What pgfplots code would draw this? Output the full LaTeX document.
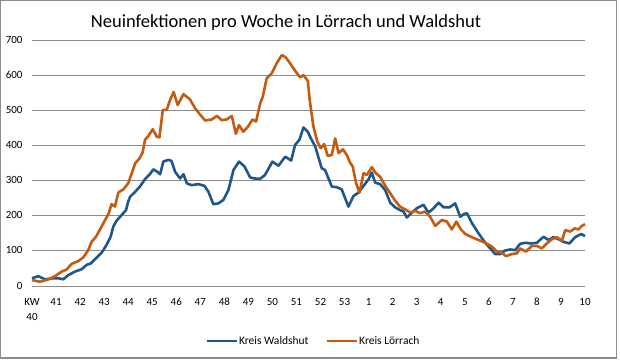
\documentclass[border=0pt]{standalone}
\usepackage{fontspec}
\setmainfont{Carlito}
\usepackage{pgfplots}
\pgfplotsset{compat=1.18}
\definecolor{wblue}{HTML}{1F5788}
\definecolor{lorange}{HTML}{C55A11}
\definecolor{gridgray}{HTML}{8C8C8C}
\begin{document}
\begin{tikzpicture}
\path[use as bounding box] (0,0) rectangle (620bp,-361bp);
\draw[gridgray, line width=1.2bp] (0.6bp,-0.6bp) rectangle (616.5bp,-358bp);
\node[font=\fontsize{18.5bp}{21bp}\selectfont] at (286bp,-23bp) {Neuinfektionen pro Woche in Lörrach und Waldshut};
\begin{axis}[
  at={(32bp,-286bp)}, anchor=south west,
  scale only axis, width=553bp, height=246bp,
  xmin=0, xmax=23, ymin=0, ymax=700,
  axis line style={draw=none},
  ytick={0,100,...,700},
  xtick={0,...,23},
  xticklabels={{KW\\40},41,42,43,44,45,46,47,48,49,50,51,52,53,1,2,3,4,5,6,7,8,9,10},
  ymajorgrids, grid style={gridgray, line width=0.8bp},
  major tick length=0pt,
  typeset ticklabels with strut,
  tick label style={font=\fontsize{11bp}{15bp}\selectfont},
  xticklabel style={align=center, anchor=north, yshift=-5bp},
  yticklabel style={anchor=east, xshift=-6bp},
  /pgf/number format/assume math mode=true,
  clip=false,
  legend columns=2,
  legend style={at={(0.508,-0.2236)}, anchor=center, draw=none, fill=none,
    font=\fontsize{11.5bp}{13bp}\selectfont,
    nodes={inner xsep=1bp},
    /tikz/every even column/.append style={column sep=16bp}},
  legend image code/.code={\draw[#1] (0bp,0bp) -- (30bp,0bp);},
]
\addplot[wblue, line width=2.6bp, line join=round] coordinates {
(0,22) (0.26,28) (0.54,19) (0.89,22) (1.1,22) (1.3,19) (1.51,31) (1.79,41)
(2.07,48) (2.27,60) (2.44,64) (2.62,76) (2.9,95) (3.1,117) (3.27,140) (3.38,169)
(3.52,186) (3.73,202) (3.91,216) (4.0,240) (4.08,254) (4.29,268) (4.49,283) (4.7,304)
(4.91,319) (5.05,332) (5.21,325) (5.33,318) (5.46,354) (5.67,359) (5.8,356) (5.95,325)
(6.16,306) (6.3,318) (6.44,292) (6.64,287) (6.92,290) (7.17,285) (7.34,268) (7.54,233)
(7.75,235) (7.96,245) (8.17,273) (8.38,330) (8.61,354) (8.84,340) (9.07,309) (9.25,306)
(9.49,305) (9.69,316) (10.0,354) (10.25,342) (10.53,368) (10.78,357) (10.94,401) (11.12,416)
(11.29,451) (11.47,439) (11.6,420) (11.78,397) (12.05,335) (12.19,330) (12.47,283) (12.68,281)
(12.88,275) (13.16,226) (13.37,256) (13.58,266) (13.79,285) (14.0,304) (14.13,323) (14.27,294)
(14.48,290) (14.69,273) (14.9,237) (15.1,224) (15.31,216) (15.45,212) (15.59,195) (15.8,209)
(16.0,221) (16.28,231) (16.49,209) (16.7,221) (16.91,237) (17.12,224) (17.37,224) (17.6,235)
(17.81,197) (17.97,205) (18.09,207) (18.29,180) (18.57,150) (18.85,123) (19.06,107) (19.26,91)
(19.47,91) (19.68,101) (19.89,104) (20.1,102) (20.3,120) (20.51,123) (20.76,121) (21.0,123)
(21.27,140) (21.48,131) (21.69,139) (21.9,133) (22.1,126) (22.35,121) (22.59,139) (22.84,148)
(23.0,142)
};
\addlegendentry{Kreis Waldshut}
\addplot[lorange, line width=2.6bp, line join=round] coordinates {
(0,17) (0.33,12) (0.68,19) (0.96,28) (1.23,41) (1.44,47) (1.65,63) (1.93,71)
(2.14,82) (2.34,102) (2.48,126) (2.66,140) (2.83,161) (3.04,188) (3.18,205) (3.31,233)
(3.45,226) (3.59,266) (3.8,275) (4.0,292) (4.15,321) (4.29,349) (4.47,363) (4.6,380)
(4.7,416) (4.84,427) (5.02,446) (5.19,425) (5.3,423) (5.44,501) (5.6,501) (5.74,529)
(5.89,552) (6.06,515) (6.3,546) (6.57,531) (6.78,506) (7.0,487) (7.2,471) (7.48,474)
(7.69,484) (7.89,472) (8.1,474) (8.31,484) (8.48,433) (8.61,458) (8.79,439) (9.0,455)
(9.17,474) (9.32,468) (9.49,520) (9.6,539) (9.76,591) (9.97,605) (10.18,634) (10.39,657)
(10.55,651) (10.73,634) (10.97,610) (11.15,594) (11.29,600) (11.47,584) (11.55,530) (11.7,455)
(11.87,410) (12.01,392) (12.15,404) (12.3,370) (12.47,373) (12.61,420) (12.75,378) (12.93,389)
(13.09,373) (13.23,351) (13.34,340) (13.48,292) (13.62,266) (13.79,321) (13.93,316) (14.13,338)
(14.3,321) (14.48,311) (14.69,285) (14.9,264) (15.1,243) (15.31,226) (15.52,218) (15.73,209)
(15.94,214) (16.14,207) (16.35,212) (16.56,197) (16.77,171) (17.05,188) (17.26,183) (17.46,161)
(17.65,183) (17.85,160) (18.02,148) (18.29,139) (18.57,131) (18.85,123) (19.13,112) (19.33,98)
(19.54,95) (19.71,85) (19.96,91) (20.17,93) (20.3,107) (20.54,98) (20.79,114) (21.0,114)
(21.2,107) (21.41,121) (21.62,133) (21.83,139) (22.04,129) (22.18,159) (22.39,155) (22.57,164)
(22.73,161) (22.87,171) (23.0,176)
};
\addlegendentry{Kreis Lörrach}
\end{axis}
\end{tikzpicture}
\end{document}
